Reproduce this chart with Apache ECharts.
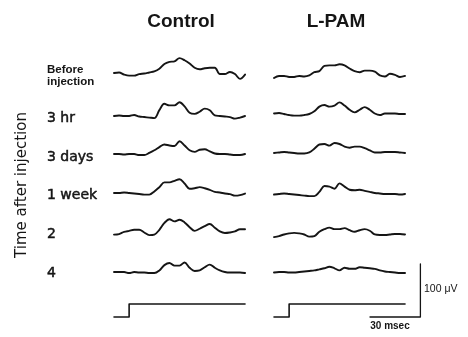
<!DOCTYPE html>
<html>
<head>
<meta charset="utf-8">
<script src="https://cdn.jsdelivr.net/npm/echarts@6/dist/echarts.min.js"></script>
<style>html,body{margin:0;padding:0;background:#fff}#c{width:468px;height:337px}</style>
</head>
<body>
<div id="c"></div>
<script>
// ---- data (time in ms, amplitude in microvolts) ----
const times = [0,3,6,9,12,15,18,21,24,27,30,33,36,39,42,45,48,51,54,57,60,63,66,69,72,75,78];
const columnTitles = ['Control', 'L-PAM'];
const rowLabels = ['3 hr', '3 days', '1 week', '2', '4'];
const firstRowLabel = ['Before', 'injection'];
const axisTitle = 'Time after injection';

const ctrlBefore = [0,1,-3,-5,-5,-2,-1,1,3,8,17,21,22,28,24,18,10,7,9,10,10,-2,-2,2,-2,-11,-3];
const ctrl3hr    = [0,1,0,0,2,-1,-2,-3,-4,11,23,20,20,26,18,6,4,8,14,11,1,0,-1,-2,-5,-3,0];
const ctrl3days  = [0,0,-1,0,0,-2,-2,2,7,13,18,16,15,24,16,7,4,8,9,5,1,0,0,-1,-2,-2,0];
const ctrl1week  = [0,0,1,0,-1,-2,-3,-3,3,11,20,20,23,26,18,8,9,11,9,6,2,1,-1,-2,-5,-4,-1];
const ctrl2wk    = [-3,-2,2,4,6,6,1,-4,-3,6,19,26,22,25,20,11,4,8,13,17,10,3,0,1,3,7,7];
const ctrl4wk    = [0,0,0,-2,0,-1,-1,-2,-2,3,13,17,12,12,18,8,2,3,9,14,8,3,0,-1,-1,-1,-2];

const lpamBefore = [-2,2,2,0,0,2,1,3,9,11,21,22,22,24,22,16,11,9,12,12,10,3,1,6,4,0,2];
const lpam3hr    = [1,2,0,-2,-3,-3,-2,0,5,14,17,14,16,22,16,8,3,8,13,8,1,-2,1,1,1,0,0];
const lpam3days  = [0,1,2,1,0,-1,-1,1,8,16,17,14,19,17,12,10,12,12,9,5,1,1,2,2,2,1,0];
const lpam1week  = [-1,0,1,0,-1,-2,-3,-4,-4,4,15,14,10,20,14,8,7,8,6,4,2,1,0,0,0,-1,0];
const lpam2wk    = [-4,-2,1,3,4,3,1,-3,-2,6,11,14,11,11,13,9,6,9,11,8,1,0,0,1,2,2,1];
const lpam4wk    = [-1,0,0,-1,-1,0,1,2,3,5,7,10,7,3,8,6,6,9,8,7,6,3,1,0,-1,-2,-2];

const stimTimes  = [0, 9, 9, 78];
const stimLevels = [0, 0, 1, 1];
const scaleBarTimes = [0, 30, 30];   // 30 msec
const scaleBarAmps  = [0, 0, 100];   // 100 microvolts
const scaleBarLabels = ['100 \u03bcV', '30 msec'];

const columns = [
  [ctrlBefore, ctrl3hr, ctrl3days, ctrl1week, ctrl2wk, ctrl4wk],
  [lpamBefore, lpam3hr, lpam3days, lpam1week, lpam2wk, lpam4wk]
];

// ---- layout ----
const colLeft = [114, 274];
const pxPerMs = 1.68;
const traceW = 78 * pxPerMs;
const pxPerUV = 0.53;
const yMin = -20, yMax = 40;
const rowBase = [[73, 116, 154, 193, 233, 272], [77, 114, 153, 194, 235, 272]];
const ink = '#151515';

const grids = [], xAxes = [], yAxes = [], series = [];
function addPanel(g, xr, yr, data, lw) {
  const i = grids.length;
  grids.push(g);
  xAxes.push({type: 'value', gridIndex: i, min: xr[0], max: xr[1], show: false});
  yAxes.push({type: 'value', gridIndex: i, min: yr[0], max: yr[1], show: false});
  series.push({
    type: 'line', xAxisIndex: i, yAxisIndex: i, data: data,
    showSymbol: false, clip: false, smooth: lw.smooth || false, animation: false,
    lineStyle: {color: ink, width: lw.width, join: 'round', cap: 'round'}
  });
}

columns.forEach((col, c) => {
  col.forEach((vals, r) => {
    const base = rowBase[c][r];
    addPanel({left: colLeft[c], top: base - yMax * pxPerUV, width: traceW, height: (yMax - yMin) * pxPerUV},
      [0, 78], [yMin, yMax], times.map((t, k) => [t, vals[k]]), {width: 1.9, smooth: 0.35});
  });
  addPanel({left: colLeft[c], top: 304, width: traceW, height: 13},
    [0, 78], [0, 1], stimTimes.map((t, k) => [t, stimLevels[k]]), {width: 1.6});
});
addPanel({left: 370, top: 317 - 100 * pxPerUV, width: 30 * pxPerMs, height: 100 * pxPerUV},
  [0, 30], [0, 100], scaleBarTimes.map((t, k) => [t, scaleBarAmps[k]]), {width: 1.3});

const graphics = [];
const colCenter = [181, 336];
columnTitles.forEach((t, c) => graphics.push({type: 'text', style: {
  text: t, x: colCenter[c], y: 22, textAlign: 'center', textVerticalAlign: 'middle',
  font: 'bold 19px "Liberation Sans", Arial, sans-serif', fill: ink}}));
graphics.push({type: 'text', style: {text: firstRowLabel[0], x: 47, y: 70, textVerticalAlign: 'middle',
  font: 'bold 11.5px "Liberation Sans", Arial, sans-serif', fill: ink}});
graphics.push({type: 'text', style: {text: firstRowLabel[1], x: 47, y: 82, textVerticalAlign: 'middle',
  font: 'bold 11.5px "Liberation Sans", Arial, sans-serif', fill: ink}});
const labelY = [118, 157, 195, 234, 273];
rowLabels.forEach((t, r) => graphics.push({type: 'text', style: {
  text: t, x: 47, y: labelY[r], textVerticalAlign: 'middle',
  font: '14px "DejaVu Sans", sans-serif', fill: ink, stroke: ink, lineWidth: 0.5}}));
graphics.push({type: 'text', rotation: Math.PI / 2, x: 22, y: 185, style: {
  text: axisTitle, x: 0, y: 0, textAlign: 'center', textVerticalAlign: 'middle',
  font: '15px "DejaVu Sans", sans-serif', fill: ink}});
graphics.push({type: 'text', style: {text: scaleBarLabels[0], x: 424, y: 289, textVerticalAlign: 'middle',
  font: '10.5px "Liberation Sans", Arial, sans-serif', fill: ink}});
graphics.push({type: 'text', style: {text: scaleBarLabels[1], x: 390, y: 326, textAlign: 'center', textVerticalAlign: 'middle',
  font: 'bold 10px "Liberation Sans", Arial, sans-serif', fill: ink}});

const chart = echarts.init(document.getElementById('c'), null, {renderer: 'canvas'});
chart.setOption({
  animation: false, backgroundColor: '#fff',
  grid: grids, xAxis: xAxes, yAxis: yAxes, series: series,
  graphic: graphics
});
</script>
</body>
</html>
